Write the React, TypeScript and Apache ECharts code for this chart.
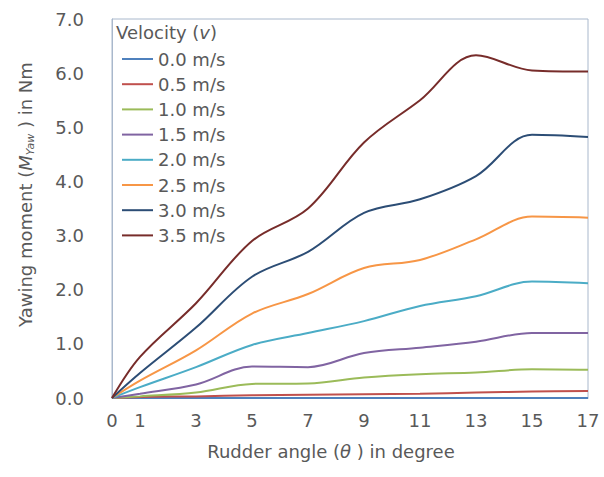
import React, { useEffect, useRef } from "react";
import * as echarts from "echarts";

const angles = [0, 1, 3, 5, 7, 9, 11, 13, 15, 17];
const xTickLabels = [0, 1, 3, 5, 7, 9, 11, 13, 15, 17];
const seriesNames = ["0.0 m/s", "0.5 m/s", "1.0 m/s", "1.5 m/s", "2.0 m/s", "2.5 m/s", "3.0 m/s", "3.5 m/s"];
const v00 = [0, 0, 0, 0, 0, 0, 0, 0, 0, 0];
const v05 = [0, 0.02, 0.03, 0.05, 0.06, 0.07, 0.08, 0.1, 0.12, 0.13];
const v10 = [0, 0.03, 0.1, 0.26, 0.27, 0.38, 0.44, 0.47, 0.53, 0.52];
const v15 = [0, 0.08, 0.25, 0.58, 0.57, 0.83, 0.93, 1.04, 1.2, 1.2];
const v20 = [0, 0.2, 0.57, 0.98, 1.2, 1.42, 1.7, 1.88, 2.15, 2.12];
const v25 = [0, 0.32, 0.88, 1.56, 1.92, 2.4, 2.55, 2.93, 3.35, 3.33];
const v30 = [0, 0.46, 1.3, 2.24, 2.7, 3.42, 3.67, 4.1, 4.86, 4.82];
const v35 = [0, 0.76, 1.75, 2.9, 3.5, 4.72, 5.5, 6.33, 6.05, 6.03];
const seriesValues = [v00, v05, v10, v15, v20, v25, v30, v35];
const colors = ["#4F81BD", "#C0504D", "#9BBB59", "#8064A2", "#4BACC6", "#F79646", "#2C4D75", "#772C2A"];

const FONT = "DejaVu Sans";
const TXT = "#595959";

export default function App() {
  const ref = useRef<HTMLDivElement>(null);
  useEffect(() => {
    if (!ref.current) return;
    const chart = echarts.init(ref.current, null, { renderer: "svg" });
    chart.setOption({
      animation: false,
      backgroundColor: "#ffffff",
      textStyle: { fontFamily: FONT, color: TXT },
      title: {
        text: "Velocity ({i|v})",
        left: 116,
        top: 23,
        padding: 0,
        textStyle: {
          fontFamily: FONT,
          fontSize: 18,
          fontWeight: "normal",
          color: TXT,
          rich: { i: { fontFamily: FONT, fontSize: 18, fontStyle: "italic", color: TXT } },
        },
      },
      legend: {
        orient: "vertical",
        left: 122,
        top: 49,
        padding: 0,
        icon: "rect",
        itemWidth: 31,
        itemHeight: 2,
        itemGap: 5.2,
        data: seriesNames,
        textStyle: { fontFamily: FONT, fontSize: 18, color: TXT, lineHeight: 20 },
      },
      grid: {
        left: 112,
        right: 16,
        top: 19,
        bottom: 79,
        show: true,
        borderColor: "#A9B8CC",
        borderWidth: 1,
      },
      xAxis: {
        type: "value",
        min: 0,
        max: 17,
        interval: 1,
        name: "{n|Rudder angle (}{i|θ}{n| ) in degree}",
        nameLocation: "middle",
        nameGap: 44,
        nameTextStyle: {
          padding: [0, 38, 0, 0],
          rich: {
            n: { fontFamily: FONT, fontSize: 18, color: TXT },
            i: { fontFamily: FONT, fontSize: 18, fontStyle: "italic", color: TXT },
          },
        },
        axisLine: { show: true, lineStyle: { color: "#A9B8CC" } },
        axisTick: { show: false },
        splitLine: { show: false },
        axisLabel: {
          customValues: xTickLabels,
          fontFamily: FONT,
          fontSize: 18,
          color: TXT,
          margin: 13,
        },
      },
      yAxis: {
        type: "value",
        min: 0,
        max: 7,
        interval: 1,
        name: "{n|Yawing moment (}{i|M}{s|Yaw}{n| ) in Nm}",
        nameLocation: "middle",
        nameGap: 76,
        nameTextStyle: {
          padding: [0, 0, 0, 28],
          rich: {
            n: { fontFamily: FONT, fontSize: 18, color: TXT, lineHeight: 22 },
            i: { fontFamily: FONT, fontSize: 18, fontStyle: "italic", color: TXT, lineHeight: 22 },
            s: { fontFamily: FONT, fontSize: 11, fontStyle: "italic", color: TXT, lineHeight: 22, verticalAlign: "bottom", padding: [8, 0, 0, 0] },
          },
        },
        axisLine: { show: true, lineStyle: { color: "#A9B8CC" } },
        axisTick: { show: false },
        splitLine: { show: false },
        axisLabel: {
          fontFamily: FONT,
          fontSize: 18,
          color: TXT,
          margin: 28,
          formatter: (v: number) => v.toFixed(1),
        },
      },
      series: seriesNames.map((name, i) => ({
        name,
        type: "line",
        smooth: 0.35,
        symbol: "none",
        color: colors[i],
        lineStyle: { width: 2, color: colors[i] },
        data: angles.map((a, j) => [a, seriesValues[i][j]]),
      })),
    });
    return () => chart.dispose();
  }, []);
  return <div ref={ref} style={{ position: "fixed", left: 0, top: 0, width: 604, height: 477 }} />;
}
